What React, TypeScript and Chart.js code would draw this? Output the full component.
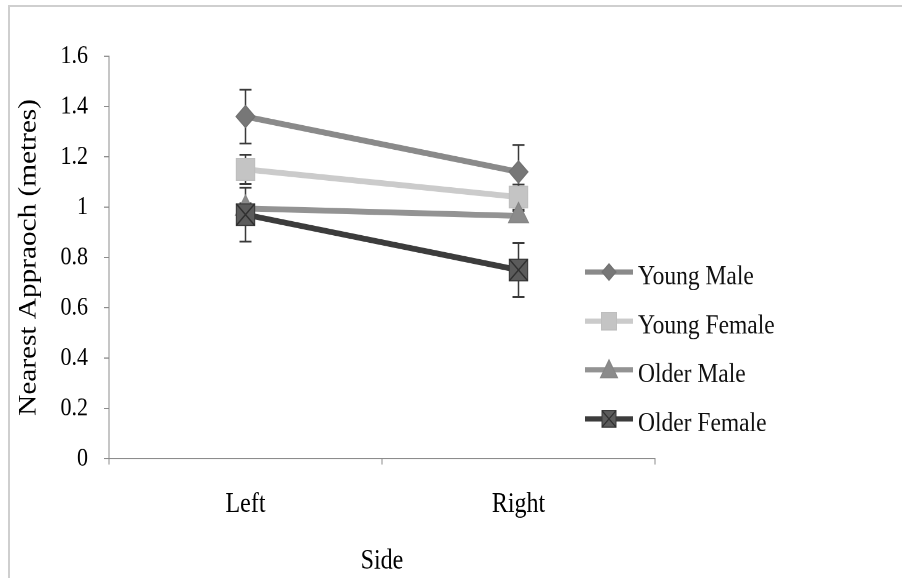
import React, { useEffect, useRef } from "react";
import { Chart, registerables } from "chart.js";

Chart.register(...registerables);

// ---------- data ----------
const categories = ["Left", "Right"];
const seriesNames = ["Young Male", "Young Female", "Older Male", "Older Female"];
const youngMale = [1.36, 1.14];
const youngFemale = [1.15, 1.04];
const olderMale = [0.995, 0.965];
const olderFemale = [0.97, 0.75];
const youngMaleErr = [0.107, 0.107];
const youngFemaleErr = [0.058, 0.05];
const olderMaleErr = [0.02, 0.02];
const olderFemaleErr = [0.107, 0.107];
const yTickValues = [0, 0.2, 0.4, 0.6, 0.8, 1, 1.2, 1.4, 1.6];
const yTickLabels = ["0", "0.2", "0.4", "0.6", "0.8", "1", "1.2", "1.4", "1.6"];
const xAxisTitle = "Side";
const yAxisTitle = "Nearest Appraoch (metres)";

// ---------- styles ----------
const FONT = "'Liberation Serif', 'Times New Roman', serif";
const lineColors = ["#8a8a8a", "#cbcbcb", "#939393", "#3c3c3c"];
const markerFills = ["#777777", "#c4c4c4", "#8b8b8b", "#5b5b5b"];
const markerBorders = ["#727272", "#bebebe", "#868686", "#3a3a3a"];
const markerKinds = ["diamond", "square", "triangle", "xsquare"];
const chartStyles = ["rectRot", "rect", "triangle", "rect"];
const chartRadii = [9.5, 13, 11.5, 13];

const W = 902;
const H = 578;
const STRETCH = 1.17;
const LH = Math.round(H / STRETCH); // logical canvas height

function drawMarker(ctx: CanvasRenderingContext2D, kind: string, x: number, y: number, h: number, fill: string, stroke: string) {
  ctx.save();
  ctx.fillStyle = fill;
  ctx.strokeStyle = stroke;
  ctx.lineWidth = 1;
  ctx.beginPath();
  if (kind === "diamond") {
    ctx.moveTo(x - h, y);
    ctx.lineTo(x, y - h);
    ctx.lineTo(x + h, y);
    ctx.lineTo(x, y + h);
    ctx.closePath();
  } else if (kind === "triangle") {
    ctx.moveTo(x, y - h);
    ctx.lineTo(x + h, y + h * 0.8);
    ctx.lineTo(x - h, y + h * 0.8);
    ctx.closePath();
  } else {
    ctx.rect(x - h, y - h, 2 * h, 2 * h);
  }
  ctx.fill();
  ctx.stroke();
  if (kind === "xsquare") {
    ctx.beginPath();
    ctx.strokeStyle = "#303030";
    ctx.lineWidth = 1.2;
    ctx.moveTo(x - h, y - h);
    ctx.lineTo(x + h, y + h);
    ctx.moveTo(x - h, y + h);
    ctx.lineTo(x + h, y - h);
    ctx.stroke();
  }
  ctx.restore();
}

const errorBarPlugin = {
  id: "errorBars",
  beforeDatasetsDraw(chart: any) {
    const ctx = chart.ctx;
    const yScale = chart.scales.y;
    const errs = [youngMaleErr, youngFemaleErr, olderMaleErr, olderFemaleErr];
    ctx.save();
    ctx.strokeStyle = "#3a3a3a";
    ctx.lineWidth = 1.5;
    chart.data.datasets.forEach((ds: any, i: number) => {
      const meta = chart.getDatasetMeta(i);
      meta.data.forEach((el: any, j: number) => {
        const v = ds.data[j];
        const e = errs[i][j];
        const yt = yScale.getPixelForValue(v + e);
        const yb = yScale.getPixelForValue(v - e);
        const x = el.x;
        ctx.beginPath();
        ctx.moveTo(x, yt);
        ctx.lineTo(x, yb);
        ctx.moveTo(x - 6, yt);
        ctx.lineTo(x + 6, yt);
        ctx.moveTo(x - 6, yb);
        ctx.lineTo(x + 6, yb);
        ctx.stroke();
      });
    });
    ctx.restore();
  },
  afterDatasetsDraw(chart: any) {
    // X inside the Older Female squares
    const ctx = chart.ctx;
    const meta = chart.getDatasetMeta(3);
    const h = chartRadii[3] * Math.SQRT1_2;
    ctx.save();
    ctx.strokeStyle = "#303030";
    ctx.lineWidth = 1.3;
    meta.data.forEach((el: any) => {
      ctx.beginPath();
      ctx.moveTo(el.x - h, el.y - h);
      ctx.lineTo(el.x + h, el.y + h);
      ctx.moveTo(el.x - h, el.y + h);
      ctx.lineTo(el.x + h, el.y - h);
      ctx.stroke();
    });
    ctx.restore();
  },
};

const legendPlugin = {
  id: "customLegend",
  afterDraw(chart: any) {
    const ctx = chart.ctx;
    const x0 = 585;
    const x1 = 633;
    const tx = 638;
    const ys = [232.5, 274.5, 316, 358];
    const sizes = [7, 7.5, 8.5, 7];
    ctx.save();
    seriesNames.forEach((name, i) => {
      const y = ys[i];
      ctx.beginPath();
      ctx.strokeStyle = lineColors[i];
      ctx.lineWidth = 4.5;
      ctx.moveTo(x0, y);
      ctx.lineTo(x1, y);
      ctx.stroke();
      drawMarker(ctx, markerKinds[i], (x0 + x1) / 2, y, sizes[i], markerFills[i], markerBorders[i]);
      ctx.fillStyle = "#111111";
      ctx.font = `23.5px ${FONT}`;
      ctx.textAlign = "left";
      ctx.textBaseline = "middle";
      ctx.fillText(name, tx, y + 4.5);
    });
    ctx.restore();
  },
};

export default function App() {
  const ref = useRef<HTMLCanvasElement | null>(null);

  useEffect(() => {
    if (!ref.current) return;
    const seriesData = [youngMale, youngFemale, olderMale, olderFemale];
    const chart = new Chart(ref.current, {
      type: "line",
      data: {
        labels: categories,
        datasets: seriesData.map((d, i) => ({
          label: seriesNames[i],
          data: d,
          borderColor: lineColors[i],
          borderWidth: 5,
          backgroundColor: markerFills[i],
          pointStyle: chartStyles[i] as any,
          pointRadius: chartRadii[i],
          pointHoverRadius: chartRadii[i],
          pointBackgroundColor: markerFills[i],
          pointBorderColor: markerBorders[i],
          pointBorderWidth: 1,
          tension: 0,
          fill: false,
          order: 3 - i,
        })),
      },
      options: {
        responsive: false,
        animation: false,
        devicePixelRatio: 2,
        events: [],
        layout: { padding: { top: 48, right: 247, left: 0, bottom: 0 } },
        plugins: {
          legend: { display: false },
          tooltip: { enabled: false },
          title: { display: false },
        },
        scales: {
          x: {
            type: "category",
            offset: true,
            grid: {
              offset: true,
              drawOnChartArea: false,
              drawTicks: true,
              tickLength: 5,
              color: "#8c8c8c",
              lineWidth: 1,
            },
            border: { display: true, color: "#8c8c8c", width: 1 },
            ticks: {
              color: "#000000",
              padding: 20,
              font: { family: FONT, size: 24 },
            },
            title: {
              display: true,
              text: xAxisTitle,
              color: "#000000",
              font: { family: FONT, size: 24 },
              padding: { top: 0, bottom: 0 },
            },
            afterFit: (s: any) => {
              s.height = LH - 392;
            },
          },
          y: {
            type: "linear",
            min: 0,
            max: 1.6,
            afterBuildTicks: (s: any) => {
              s.ticks = yTickValues.map((v) => ({ value: v }));
            },
            grid: {
              drawOnChartArea: false,
              drawTicks: true,
              tickLength: 5,
              color: "#8c8c8c",
              lineWidth: 1,
            },
            border: { display: true, color: "#8c8c8c", width: 1 },
            ticks: {
              color: "#000000",
              padding: 16,
              font: { family: FONT, size: 22 },
              callback: (_v: any, i: number) => yTickLabels[i],
            },
            title: {
              display: true,
              text: yAxisTitle,
              color: "#000000",
              font: { family: FONT, size: 25 },
              padding: { top: 14, bottom: 0 },
            },
            afterFit: (s: any) => {
              s.width = 109;
            },
          },
        },
      },
      plugins: [errorBarPlugin, legendPlugin],
    });
    return () => chart.destroy();
  }, []);

  return (
    <div
      style={{
        position: "fixed",
        left: 0,
        top: 0,
        width: W,
        height: H,
        overflow: "hidden",
        background: "#ffffff",
      }}
    >
      <canvas
        ref={ref}
        width={W}
        height={LH}
        style={{
          position: "absolute",
          left: 0,
          top: 0,
          transform: `scaleY(${H / LH})`,
          transformOrigin: "0 0",
        }}
      />
      <div style={{ position: "absolute", left: 8, top: 5, width: W - 8, height: 2, background: "#cfcfcf" }} />
      <div style={{ position: "absolute", left: 8, top: 5, width: 2, height: H - 5, background: "#cfcfcf" }} />
    </div>
  );
}
